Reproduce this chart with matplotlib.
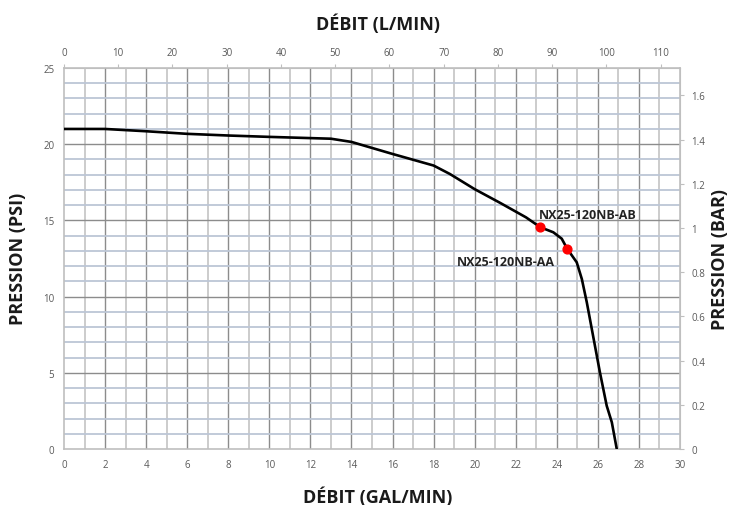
import numpy as np
import matplotlib.pyplot as plt
from matplotlib.ticker import MultipleLocator

# pump curve (flow in gal/min, pressure in psi)
flow_gpm = [0, 2, 4, 6, 8, 10, 12, 13, 14, 16, 18, 18.8, 20, 21.24, 22.5,
            23.2, 23.83, 24.24, 24.5, 24.97, 25.22, 25.46, 26.1, 26.43, 26.68, 26.92]
pressure_psi = [21.0, 21.0, 20.85, 20.68, 20.57, 20.48, 20.4, 20.36, 20.15, 19.36,
                18.6, 18.04, 17.05, 16.15, 15.2, 14.55, 14.22, 13.8, 13.15, 12.25,
                11.15, 9.63, 5.03, 2.84, 1.75, 0.0]

models = ['NX25-120NB-AB', 'NX25-120NB-AA']
model_flow = [23.2, 24.48]
model_psi = [14.55, 13.12]

lpm_ticks = list(range(0, 120, 10))
bar_ticks = [0, 0.2, 0.4, 0.6, 0.8, 1, 1.2, 1.4, 1.6]
bar_labels = ['0', '0.2', '0.4', '0.6', '0.8', '1', '1.2', '1.4', '1.6']

GAL_TO_L = 3.78541
PSI_PER_BAR = 14.5038

plt.rcParams['font.family'] = ['Open Sans', 'DejaVu Sans']
tick_col = '#595959'

fig = plt.figure(figsize=(7.34, 5.06), dpi=100)
ax = fig.add_axes([64 / 734, 56 / 506, 616 / 734, 381 / 506])
ax.set_xlim(0, 30)
ax.set_ylim(0, 25)

# grid: every gal/min and every psi, darker at the main steps
for g in range(1, 30):
    if g % 2 == 0:
        ax.axvline(g, color='#8c8c8c', lw=1.0, zorder=1)
    else:
        ax.axvline(g, color='#cccccc', lw=1.4, zorder=1)
for p in range(1, 25):
    if p % 5 == 0:
        ax.axhline(p, color='#8c8c8c', lw=1.0, zorder=1)
    else:
        ax.axhline(p, color='#bcc6d6', lw=1.3, zorder=1)

ax.plot(flow_gpm, pressure_psi, color='black', lw=1.9, zorder=3)
ax.scatter(model_flow, model_psi, color='#ff0000', s=40, zorder=4)
ax.text(model_flow[0] - 0.05, model_psi[0] + 0.85, models[0], fontsize=9,
        fontweight='bold', color='#222222', ha='left', va='center')
ax.text(model_flow[1] - 0.55, model_psi[1] - 0.8, models[1], fontsize=9,
        fontweight='bold', color='#222222', ha='right', va='center')

for s in ax.spines.values():
    s.set_color('#bfbfbf')
    s.set_linewidth(1.2)

ax.xaxis.set_major_locator(MultipleLocator(2))
ax.yaxis.set_major_locator(MultipleLocator(5))
ax.tick_params(axis='both', length=0, labelsize=7, colors=tick_col, pad=7)

# top axis in L/min
top = ax.secondary_xaxis('top', functions=(lambda g: g * GAL_TO_L, lambda l: l / GAL_TO_L))
top.set_xticks(lpm_ticks)
top.tick_params(length=3, color='#bfbfbf', labelsize=7, labelcolor=tick_col, pad=4)
top.spines['top'].set_color('#bfbfbf')

# right axis in bar
right = ax.secondary_yaxis('right', functions=(lambda p: p / PSI_PER_BAR, lambda b: b * PSI_PER_BAR))
right.set_yticks(bar_ticks)
right.set_yticklabels(bar_labels)
right.tick_params(length=3, color='#bfbfbf', labelsize=7, labelcolor=tick_col, pad=5)
right.spines['right'].set_color('#bfbfbf')

lab = dict(fontsize=13, fontweight='bold', color='#1a1a1a')
fig.text(378 / 734, 1 - 24 / 506, 'DÉBIT (L/MIN)', ha='center', va='center', **lab)
fig.text(378 / 734, 1 - 497 / 506, 'DÉBIT (GAL/MIN)', ha='center', va='center', **lab)
fig.text(18 / 734, 1 - 259 / 506, 'PRESSION (PSI)', ha='center', va='center', rotation=90, **lab)
fig.text(720 / 734, 1 - 259 / 506, 'PRESSION (BAR)', ha='center', va='center', rotation=90, **lab)

fig.savefig('out.png', dpi=100)
